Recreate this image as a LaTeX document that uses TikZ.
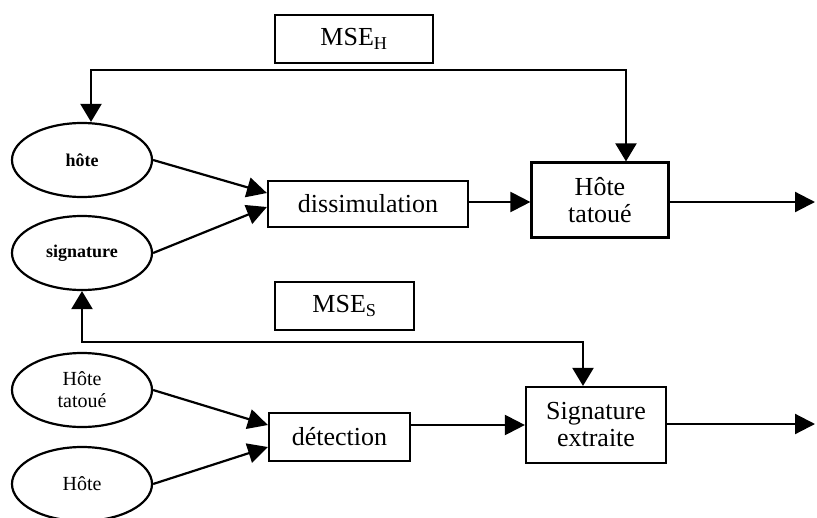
\documentclass[tikz,border=0pt]{standalone}
\usepackage{fontspec}
\setmainfont{Liberation Serif}
\usetikzlibrary{arrows.meta,calc,shapes.geometric}
\tikzset{
  boxnode/.style={draw, line width=2.2pt, inner sep=0pt, align=center, font=\fontsize{26}{27}\selectfont},
  ellnode/.style={draw, ellipse, line width=2.2pt, minimum width=140pt, minimum height=74pt, inner sep=0pt, align=center, font=\fontsize{20}{22}\selectfont},
  boldtext/.style={font=\fontsize{18}{20}\selectfont\bfseries},
  conn/.style={line width=2.2pt, -{Triangle[length=20pt,width=20pt]}},
  vconn/.style={line width=2.2pt, {Triangle[length=18pt,width=21pt]}-{Triangle[length=18pt,width=21pt]}},
}
\begin{document}
\begin{tikzpicture}[x=1pt,y=-1pt]
\useasboundingbox (0,0) rectangle (817,517);
% top part
\node[boxnode, minimum width=158pt, minimum height=48pt] (mseh) at (354,39) {MSE\textsubscript{H}};
\node[ellnode, boldtext] (hote) at (82,160) {hôte};
\node[ellnode, boldtext] (sig) at (82,253) {signature};
\node[boxnode, minimum width=200pt, minimum height=46pt] (dis) at (368,204) {dissimulation};
\node[boxnode, minimum width=137pt, minimum height=75pt] (ht) at (600,200) {Hôte\\tatoué};
\coordinate (fbH) at (626,70);
\coordinate (outH) at (815,202);
\draw[conn] (hote.east) -- ([yshift=11pt]dis.west);
\draw[conn] (sig.east) -- ([yshift=-3pt]dis.west);
\draw[conn] (dis.east |- outH) -- (ht.west |- outH);
\draw[conn] (ht.east |- outH) -- (outH);
\draw[vconn] ($(hote.north)+(9,0)$) |- (fbH) -- (fbH |- ht.north);
% bottom part
\node[boxnode, minimum width=139pt, minimum height=48pt] (mses) at (344.5,306) {MSE\textsubscript{S}};
\node[ellnode] (htat) at (82,390) {Hôte\\tatoué};
\node[ellnode] (h2) at (82,484) {Hôte};
\node[boxnode, minimum width=141pt, minimum height=48pt] (det) at (339.5,437) {détection};
\node[boxnode, minimum width=140pt, minimum height=76pt] (se) at (596,425) {Signature\\extraite};
\coordinate (fbS) at (583,342);
\coordinate (outS) at (815,424);
\draw[conn] (htat.east) -- ([yshift=12pt]det.west);
\draw[conn] (h2.east) -- ([yshift=-10pt]det.west);
\draw[conn] (det.east |- se.west) -- (se.west);
\draw[conn] (se.east |- outS) -- (outS);
\draw[vconn] (sig.south) |- (fbS) -- (fbS |- se.north);
\end{tikzpicture}
\end{document}
